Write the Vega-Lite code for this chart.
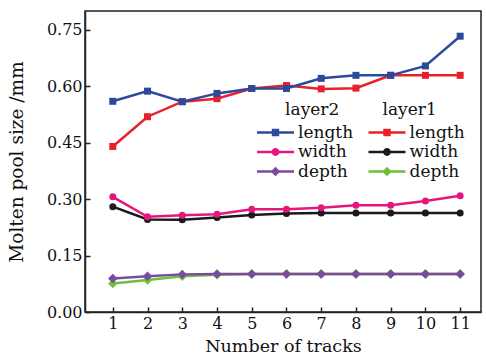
{
  "$schema": "https://vega.github.io/schema/vega-lite/v6.json",
  "width": 396,
  "height": 301,
  "autosize": "none",
  "padding": {"left": 85, "top": 11, "right": 5, "bottom": 51},
  "config": {
    "view": {"stroke": "#222", "strokeWidth": 1.5},
    "font": "DejaVu Serif",
    "axis": {
      "domainColor": "#222", "domainWidth": 1.5, "tickColor": "#222", "tickWidth": 1.5,
      "tickSize": -5, "labelColor": "#111", "titleColor": "#111", "labelFontSize": 16,
      "titleFontSize": 17.5, "titleFontWeight": "normal", "grid": false
    },
    "legend": {
      "labelFontSize": 17, "titleFontSize": 17, "titleFontWeight": "normal",
      "labelColor": "#111", "titleColor": "#111"
    }
  },
  "data": {"values": [
    {"track":1,"series":"L1 length","v":0.44},{"track":2,"series":"L1 length","v":0.519},{"track":3,"series":"L1 length","v":0.559},{"track":4,"series":"L1 length","v":0.567},{"track":5,"series":"L1 length","v":0.594},{"track":6,"series":"L1 length","v":0.602},{"track":7,"series":"L1 length","v":0.593},{"track":8,"series":"L1 length","v":0.595},{"track":9,"series":"L1 length","v":0.629},{"track":10,"series":"L1 length","v":0.629},{"track":11,"series":"L1 length","v":0.629},
    {"track":1,"series":"L1 width","v":0.28},{"track":2,"series":"L1 width","v":0.246},{"track":3,"series":"L1 width","v":0.245},{"track":4,"series":"L1 width","v":0.251},{"track":5,"series":"L1 width","v":0.258},{"track":6,"series":"L1 width","v":0.262},{"track":7,"series":"L1 width","v":0.263},{"track":8,"series":"L1 width","v":0.263},{"track":9,"series":"L1 width","v":0.263},{"track":10,"series":"L1 width","v":0.263},{"track":11,"series":"L1 width","v":0.263},
    {"track":1,"series":"L1 depth","v":0.076},{"track":2,"series":"L1 depth","v":0.085},{"track":3,"series":"L1 depth","v":0.095},{"track":4,"series":"L1 depth","v":0.099},{"track":5,"series":"L1 depth","v":0.101},{"track":6,"series":"L1 depth","v":0.101},{"track":7,"series":"L1 depth","v":0.101},{"track":8,"series":"L1 depth","v":0.101},{"track":9,"series":"L1 depth","v":0.101},{"track":10,"series":"L1 depth","v":0.101},{"track":11,"series":"L1 depth","v":0.101},
    {"track":1,"series":"L2 length","v":0.56},{"track":2,"series":"L2 length","v":0.587},{"track":3,"series":"L2 length","v":0.559},{"track":4,"series":"L2 length","v":0.581},{"track":5,"series":"L2 length","v":0.594},{"track":6,"series":"L2 length","v":0.594},{"track":7,"series":"L2 length","v":0.621},{"track":8,"series":"L2 length","v":0.629},{"track":9,"series":"L2 length","v":0.629},{"track":10,"series":"L2 length","v":0.654},{"track":11,"series":"L2 length","v":0.733},
    {"track":1,"series":"L2 width","v":0.306},{"track":2,"series":"L2 width","v":0.253},{"track":3,"series":"L2 width","v":0.257},{"track":4,"series":"L2 width","v":0.26},{"track":5,"series":"L2 width","v":0.273},{"track":6,"series":"L2 width","v":0.273},{"track":7,"series":"L2 width","v":0.277},{"track":8,"series":"L2 width","v":0.284},{"track":9,"series":"L2 width","v":0.284},{"track":10,"series":"L2 width","v":0.295},{"track":11,"series":"L2 width","v":0.309},
    {"track":1,"series":"L2 depth","v":0.089},{"track":2,"series":"L2 depth","v":0.095},{"track":3,"series":"L2 depth","v":0.1},{"track":4,"series":"L2 depth","v":0.101},{"track":5,"series":"L2 depth","v":0.101},{"track":6,"series":"L2 depth","v":0.101},{"track":7,"series":"L2 depth","v":0.101},{"track":8,"series":"L2 depth","v":0.101},{"track":9,"series":"L2 depth","v":0.101},{"track":10,"series":"L2 depth","v":0.101},{"track":11,"series":"L2 depth","v":0.101}
  ]},
  "encoding": {
    "x": {"field": "track", "type": "quantitative", "scale": {"domain": [0.2, 11.6], "nice": false, "zero": false},
      "axis": {"values": [1,2,3,4,5,6,7,8,9,10,11], "title": "Number of tracks", "labelPadding": 8, "titlePadding": 6}},
    "y": {"field": "v", "type": "quantitative", "scale": {"domain": [0, 0.8], "nice": false},
      "axis": {"values": [0, 0.15, 0.3, 0.45, 0.6, 0.75], "format": ".2f", "title": "Molten pool size /mm", "labelPadding": 8, "titlePadding": 20, "titleFontSize": 18.5}},
    "color": {"field": "series", "type": "nominal",
      "scale": {"domain": ["L2 length","L2 width","L2 depth","L1 length","L1 width","L1 depth"],
        "range": ["#2c4a9c","#e5177f","#7a4a9e","#e8202a","#1a1a1a","#70bf3c"]},
      "legend": {
        "orient": "none", "legendX": 180.5, "legendY": 91, "columns": 2,
        "title": "\u200b\u00a0\u00a0\u00a0\u2009layer2\u00a0\u00a0\u00a0\u00a0\u00a0\u00a0\u00a0\u00a0layer1",
        "titlePadding": 3.5, "symbolSize": 400, "columnPadding": 14.5, "rowPadding": 1.5, "labelOffset": 12.5,
        "symbolStrokeWidth": 0, "symbolOpacity": 1,
        "labelExpr": "split(datum.label, ' ')[1]"
      }}
  },
  "layer": [
    {"transform": [{"filter": "datum.track < 0"}], "mark": {"type": "point", "filled": true, "opacity": 1},
      "encoding": {
        "shape": {"field": "series", "type": "nominal",
          "scale": {"domain": ["L2 length","L2 width","L2 depth","L1 length","L1 width","L1 depth"],
            "range": ["M-1.85,-0.13H1.85V0.13H-1.85Z M-0.37,-0.37H0.37V0.37H-0.37Z", "M-1.85,-0.13H1.85V0.13H-1.85Z M-0.39,0A0.39,0.39,0,1,1,0.39,0A0.39,0.39,0,1,1,-0.39,0Z", "M-1.85,-0.13H1.85V0.13H-1.85Z M0,-0.48L0.48,0L0,0.48L-0.48,0Z", "M-1.85,-0.13H1.85V0.13H-1.85Z M-0.37,-0.37H0.37V0.37H-0.37Z", "M-1.85,-0.13H1.85V0.13H-1.85Z M-0.39,0A0.39,0.39,0,1,1,0.39,0A0.39,0.39,0,1,1,-0.39,0Z", "M-1.85,-0.13H1.85V0.13H-1.85Z M0,-0.48L0.48,0L0,0.48L-0.48,0Z"]}}
      }},
    {"transform": [{"filter": "indexof(datum.series,'L1')==0"}], "mark": {"type": "line", "strokeWidth": 2.5}, "encoding": {}},
    {"transform": [{"filter": "datum.series=='L1 length'"}], "mark": {"type": "point", "filled": true, "opacity": 1, "shape": "square", "size": 49}, "encoding": {}},
    {"transform": [{"filter": "datum.series=='L1 width'"}], "mark": {"type": "point", "filled": true, "opacity": 1, "shape": "circle", "size": 49}, "encoding": {}},
    {"transform": [{"filter": "datum.series=='L1 depth'"}], "mark": {"type": "point", "filled": true, "opacity": 1, "shape": "diamond", "size": 90}, "encoding": {}},
    {"transform": [{"filter": "indexof(datum.series,'L2')==0"}], "mark": {"type": "line", "strokeWidth": 2.5}, "encoding": {}},
    {"transform": [{"filter": "datum.series=='L2 length'"}], "mark": {"type": "point", "filled": true, "opacity": 1, "shape": "square", "size": 49}, "encoding": {}},
    {"transform": [{"filter": "datum.series=='L2 width'"}], "mark": {"type": "point", "filled": true, "opacity": 1, "shape": "circle", "size": 49}, "encoding": {}},
    {"transform": [{"filter": "datum.series=='L2 depth'"}], "mark": {"type": "point", "filled": true, "opacity": 1, "shape": "diamond", "size": 90}, "encoding": {}}
  ]
}
